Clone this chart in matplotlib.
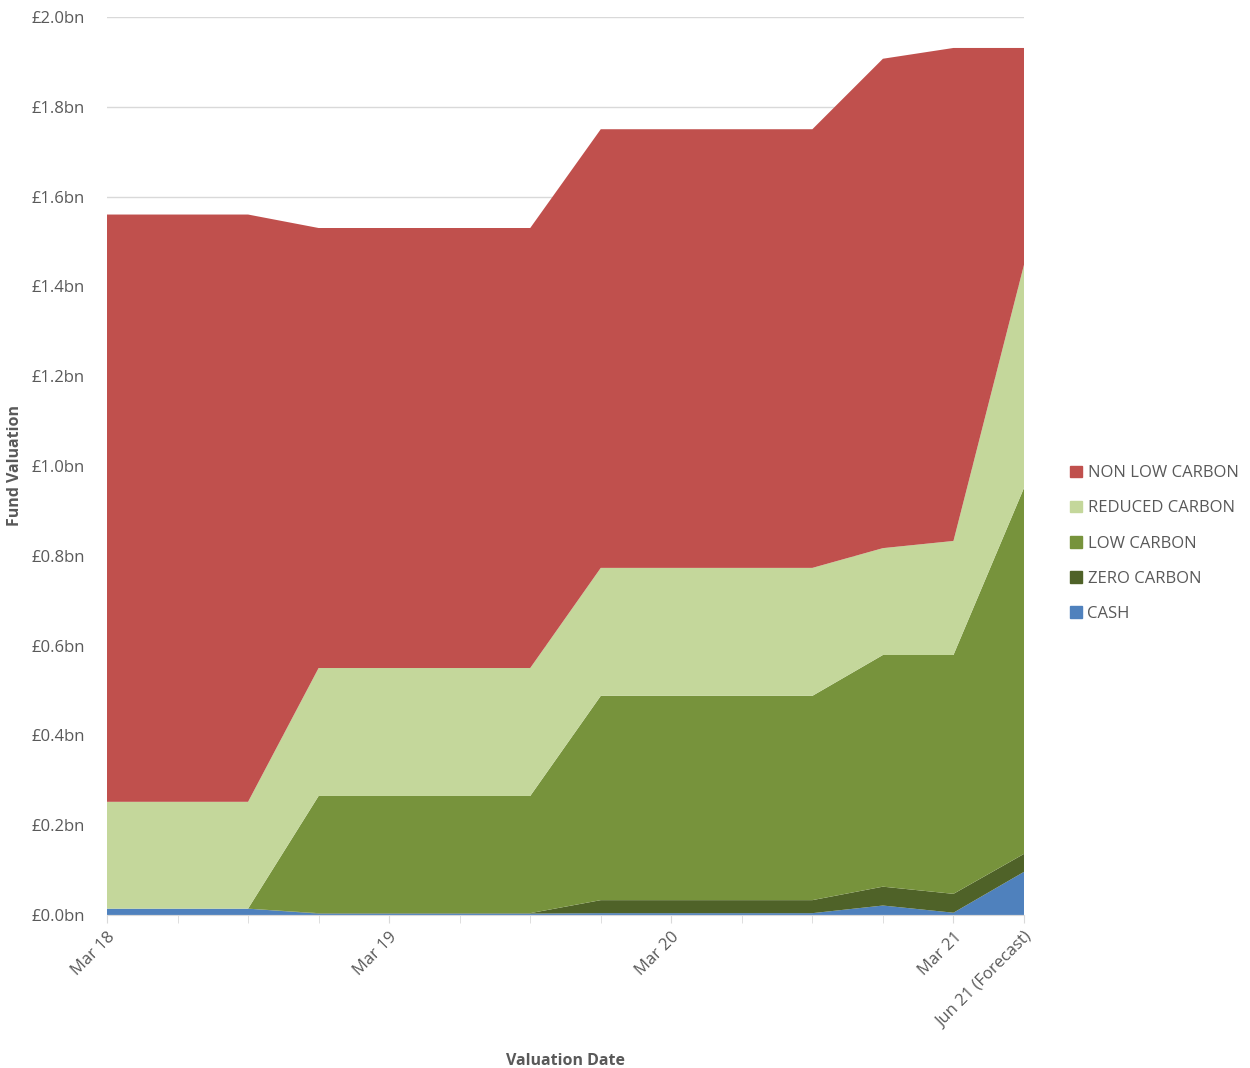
import numpy as np
import matplotlib.pyplot as plt
from matplotlib.patches import Patch

quarters = ["Mar 18", "Jun 18", "Sep 18", "Dec 18", "Mar 19", "Jun 19", "Sep 19",
            "Dec 19", "Mar 20", "Jun 20", "Sep 20", "Dec 20", "Mar 21", "Jun 21 (Forecast)"]
labelled = ["Mar 18", "Mar 19", "Mar 20", "Mar 21", "Jun 21 (Forecast)"]

# cumulative tops (bn)
cash_top = [0.014, 0.014, 0.014, 0.003, 0.003, 0.003, 0.003, 0.004, 0.004, 0.004, 0.004, 0.021, 0.005, 0.096]
zero_top = [0.014, 0.014, 0.014, 0.004, 0.004, 0.004, 0.004, 0.033, 0.033, 0.033, 0.033, 0.063, 0.047, 0.136]
low_top = [0.014, 0.014, 0.014, 0.265, 0.265, 0.265, 0.265, 0.488, 0.488, 0.488, 0.488, 0.579, 0.579, 0.951]
reduced_top = [0.252, 0.252, 0.252, 0.550, 0.550, 0.550, 0.550, 0.773, 0.773, 0.773, 0.773, 0.817, 0.833, 1.448]
total = [1.560, 1.560, 1.560, 1.530, 1.530, 1.530, 1.530, 1.750, 1.750, 1.750, 1.750, 1.907, 1.931, 1.931]

cash = np.array(cash_top)
zero = np.array(zero_top) - cash
low = np.array(low_top) - np.array(zero_top)
reduced = np.array(reduced_top) - np.array(low_top)
nonlow = np.array(total) - np.array(reduced_top)

series = ["CASH", "ZERO CARBON", "LOW CARBON", "REDUCED CARBON", "NON LOW CARBON"]
colors = ["#4F81BD", "#4F6228", "#77933C", "#C4D79B", "#C0504D"]

plt.rcParams['font.family'] = ['Open Sans', 'DejaVu Sans']
grey = "#595959"

fig = plt.figure(figsize=(12.5, 10.68), dpi=100)
ax = fig.add_axes([0.0856, 0.1433, 0.8336 - 0.0856 - 0.0144, 0.9841 - 0.1433])

x = np.arange(len(quarters))
ax.stackplot(x, cash, zero, low, reduced, nonlow, colors=colors, linewidth=0)

ax.set_xlim(0, len(quarters) - 1)
ax.set_ylim(0, 2.0)
ax.set_yticks(np.arange(0, 2.01, 0.2))
ax.set_yticklabels([f"£{v:.1f}bn" for v in np.arange(0, 2.01, 0.2)], color=grey, fontsize=12)
ax.grid(axis="y", color="#D9D9D9", linewidth=1)
ax.set_axisbelow(True)
ax.tick_params(axis="y", length=0, pad=16)

ax.set_xticks(x, minor=True)
ax.set_xticks([quarters.index(q) for q in labelled])
ax.set_xticklabels(labelled, rotation=45, ha="right", rotation_mode="anchor",
                   color=grey, fontsize=12)
ax.tick_params(axis="x", which="both", length=6, color="#D9D9D9", pad=4)

for s in ["top", "right", "left"]:
    ax.spines[s].set_visible(False)
ax.spines["bottom"].set_color("#D9D9D9")

ax.set_ylabel("Fund Valuation", fontweight="bold", color=grey, fontsize=11.5, labelpad=6)
ax.set_xlabel("Valuation Date", fontweight="bold", color=grey, fontsize=11.5, labelpad=16)

handles = [Patch(color=c, label=s) for s, c in zip(series, colors)][::-1]
fig.legend(handles=handles, loc="center left", bbox_to_anchor=(0.844, 0.491), frameon=False,
           fontsize=12, labelcolor=grey, handlelength=0.7, handleheight=0.7,
           handletextpad=0.35, labelspacing=1.15)

fig.savefig("out.png", dpi=100)
